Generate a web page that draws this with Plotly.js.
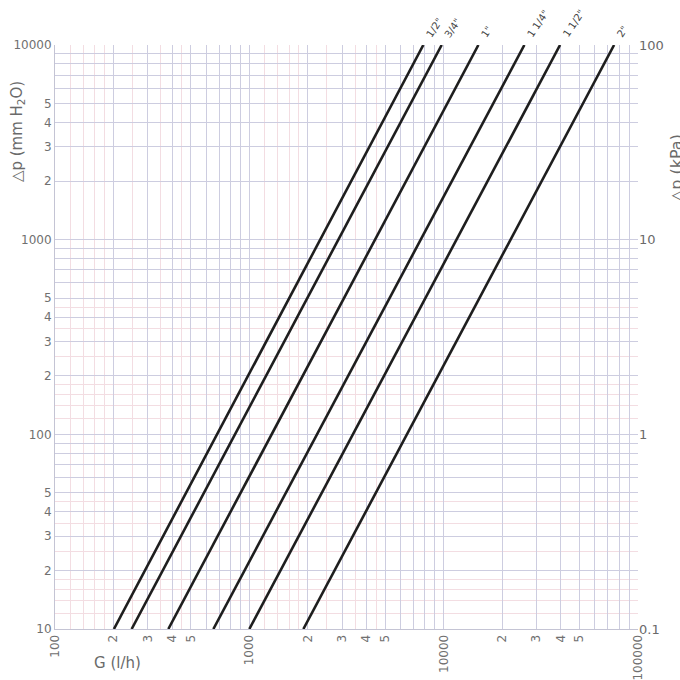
<!DOCTYPE html>
<html>
<head>
<meta charset="utf-8">
<script src="https://cdn.plot.ly/plotly-3.0.1.min.js"></script>
<style>html,body{margin:0;padding:0;background:#fff;}#chart{width:680px;height:680px;}</style>
</head>
<body>
<div id="chart"></div>
<script>
// Pipe sizes (one straight line each on the log-log chart)
const sizes = ['1/2"', '3/4"', '1"', '1 1/4"', '1 1/2"', '2"'];
// Flow rate G (l/h) at which each line crosses Δp = 10 mm H2O (bottom) and Δp = 10000 mm H2O (top)
const dpLow = 10;
const dpHigh = 10000;
const gAtLow  = [201, 248, 383, 653, 1000, 1897];
const gAtHigh = [7860, 9770, 15090, 26020, 39720, 75340];

// Tick labels
const xTickVals = [100, 200, 300, 400, 500, 1000, 2000, 3000, 4000, 5000, 10000, 20000, 30000, 40000, 50000, 100000];
const xTickText = ['100', '2', '3', '4', '5', '1000', '2', '3', '4', '5', '10000', '2', '3', '4', '5', '100000'];
const yTickVals = [10, 20, 30, 40, 50, 100, 200, 300, 400, 500, 1000, 2000, 3000, 4000, 5000, 10000];
const yTickText = ['10', '2', '3', '4', '5', '100', '2', '3', '4', '5', '1000', '2', '3', '4', '5', '10000'];
const kpaTickVals = [0.1, 1, 10, 100];
const kpaTickText = ['0.1', '1', '10', '100'];

// grid helpers (all 1..9 multiples get a grid line; finer faint lines in between)
function gridVals(d0, d1, mults) {
  const out = [];
  for (let d = d0; d <= d1; d++) {
    for (const m of mults) {
      const v = m * Math.pow(10, d);
      if (v <= Math.pow(10, d1) * 1.0001) out.push(v);
    }
  }
  return out;
}
const mainMults = [1, 2, 3, 4, 5, 6, 7, 8, 9];
const fineMults = [1.2, 1.4, 1.6, 1.8, 2.5, 3.5, 4.5];

function fullTicks(d0, d1, labVals, labText) {
  const vals = gridVals(d0, d1, mainMults);
  const text = vals.map(v => {
    const i = labVals.findIndex(l => Math.abs(l - v) / v < 1e-6);
    return i >= 0 ? labText[i] : ' ';
  });
  return {vals, text};
}
const xt = fullTicks(2, 5, xTickVals, xTickText);
const yt = fullTicks(1, 4, yTickVals, yTickText);

const traces = sizes.map((s, i) => ({
  type: 'scatter',
  mode: 'lines',
  x: [gAtLow[i], gAtHigh[i]],
  y: [dpLow, dpHigh],
  name: s,
  line: {color: '#1e1e1e', width: 2.6},
  hoverinfo: 'skip',
  showlegend: false
}));
// invisible trace for the kPa axis
traces.push({type: 'scatter', mode: 'lines', x: [100, 100000], y: [0.1, 100], yaxis: 'y2',
  line: {width: 0, color: 'rgba(0,0,0,0)'}, hoverinfo: 'skip', showlegend: false});

const FONT = '"DejaVu Sans", Lato, sans-serif';
const tickFont = {family: FONT, size: 12, color: '#707070'};
const gridColor = '#cdcde0';
const fineColor = '#f3dde2';

const annotations = sizes.map((s, i) => ({
  x: Math.log10(gAtHigh[i]), y: Math.log10(dpHigh), xref: 'x', yref: 'y',
  text: s, showarrow: false, textangle: -56,
  xanchor: 'left', yanchor: 'bottom', xshift: -2, yshift: 3,
  font: {family: FONT, size: 10, color: '#444'}
}));
annotations.push({
  x: 0.108, y: -0.058, xref: 'paper', yref: 'paper', xanchor: 'center', yanchor: 'middle',
  text: 'G (l/h)', showarrow: false,
  font: {family: FONT, size: 15, color: '#6a6a6a'}
});
annotations.push({
  x: -0.064, y: 0.852, xref: 'paper', yref: 'paper', xanchor: 'center', yanchor: 'middle',
  text: '△p (mm H<sub>2</sub>O)', showarrow: false,
  textangle: -90, font: {family: FONT, size: 15, color: '#6a6a6a'}
});
annotations.push({
  x: 1.066, y: 0.79, xref: 'paper', yref: 'paper', xanchor: 'center', yanchor: 'middle',
  text: '△p (kPa)', showarrow: false,
  textangle: -90, font: {family: FONT, size: 16, color: '#6a6a6a'}
});

const layout = {
  width: 680, height: 680,
  margin: {l: 55, r: 42, t: 45, b: 51},
  paper_bgcolor: '#ffffff', plot_bgcolor: '#ffffff',
  showlegend: false,
  xaxis: {
    type: 'log', range: [2, 5], tickmode: 'array', tickvals: xt.vals, ticktext: xt.text,
    tickangle: -90, tickfont: tickFont, ticks: '', showgrid: true, gridcolor: gridColor, gridwidth: 1,
    showline: true, linecolor: '#c4c4d4', mirror: false, zeroline: false,
    minor: {tickmode: 'array', tickvals: gridVals(2, 4, fineMults), showgrid: true, gridcolor: fineColor, gridwidth: 1, ticks: ''}
  },
  yaxis: {
    type: 'log', range: [1, 4], tickmode: 'array', tickvals: yt.vals, ticktext: yt.text,
    tickfont: tickFont, ticks: '', showgrid: true, gridcolor: gridColor, gridwidth: 1,
    showline: true, linecolor: '#c4c4d4', zeroline: false,
    minor: {tickmode: 'array', tickvals: gridVals(1, 3, fineMults), showgrid: true, gridcolor: fineColor, gridwidth: 1, ticks: ''}
  },
  yaxis2: {
    type: 'log', range: [-1, 2], overlaying: 'y', side: 'right', tickmode: 'array',
    tickvals: kpaTickVals, ticktext: kpaTickText, tickfont: {family: FONT, size: 13, color: '#6a6a6a'},
    ticks: '', showgrid: false, showline: false, zeroline: false
  },
  annotations: annotations
};

Plotly.newPlot('chart', traces, layout, {staticPlot: true, displayModeBar: false});
</script>
</body>
</html>
